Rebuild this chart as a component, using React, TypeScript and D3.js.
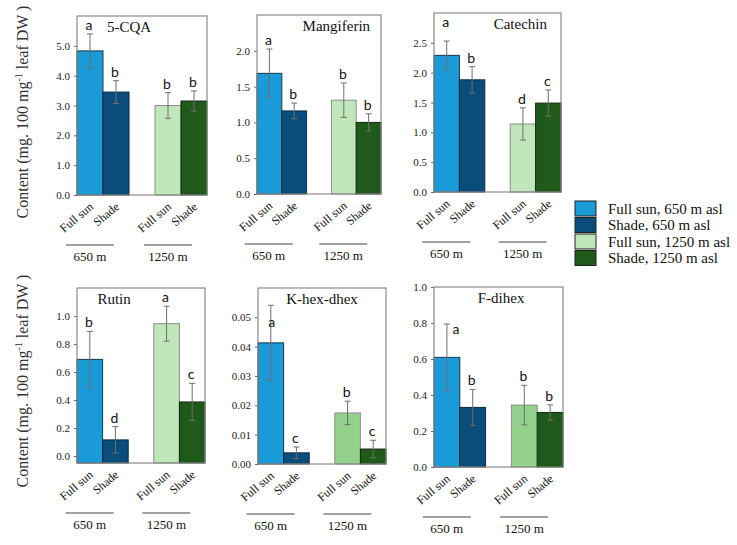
import { useEffect, useRef } from "react"
import * as d3 from "d3"

// treatments, in bar order
const treatments = ["Full sun, 650 m asl", "Shade, 650 m asl", "Full sun, 1250 m asl", "Shade, 1250 m asl"]
const barLabels = ["Full sun", "Shade", "Full sun", "Shade"]
const sites = ["650 m", "1250 m"]

// 5-CQA
const cqaMeans = [4.83, 3.45, 3.0, 3.15]
const cqaErrs = [0.57, 0.38, 0.43, 0.34]
const cqaLetters = ["a", "b", "b", "b"]
const cqaTicks = [0, 1, 2, 3, 4, 5]

// Mangiferin
const mangMeans = [1.685, 1.16, 1.31, 1.0]
const mangErrs = [0.34, 0.11, 0.24, 0.12]
const mangLetters = ["a", "b", "b", "b"]
const mangTicks = [0, 0.5, 1.0, 1.5, 2.0]

// Catechin
const catMeans = [2.29, 1.88, 1.14, 1.49]
const catErrs = [0.24, 0.22, 0.27, 0.22]
const catLetters = ["a", "b", "d", "c"]
const catTicks = [0, 0.5, 1.0, 1.5, 2.0, 2.5]

// Rutin
const rutMeans = [0.74, 0.165, 0.995, 0.436]
const rutErrs = [0.2, 0.095, 0.125, 0.133]
const rutLetters = ["b", "d", "a", "c"]
const rutTicks = [0, 0.2, 0.4, 0.6, 0.8, 1.0]

// K-hex-dhex
const khexMeans = [0.0413, 0.0038, 0.0174, 0.0051]
const khexErrs = [0.0128, 0.002, 0.004, 0.003]
const khexLetters = ["a", "c", "b", "c"]
const khexTicks = [0, 0.01, 0.02, 0.03, 0.04, 0.05]

// F-dihex
const fdiMeans = [0.609, 0.331, 0.344, 0.303]
const fdiErrs = [0.185, 0.1, 0.11, 0.042]
const fdiLetters = ["a", "b", "b", "b"]
const fdiTicks = [0, 0.2, 0.4, 0.6, 0.8, 1.0]

const FILL = ["#1a9ad6", "#0a4c7a", "#c2e6bb", "#1f5a1a"]
const STROKE = ["#17384d", "#0a2a40", "#8a8f88", "#0f2a0c"]
const SERIF = "'Liberation Serif', 'Times New Roman', serif"
const SANS = "Lato, 'Open Sans', sans-serif"

// panel layout (pixel boxes, title placement, odd letter placements)
const panels = [
  { name: "5-CQA", means: cqaMeans, errs: cqaErrs, letters: cqaLetters, ticks: cqaTicks, max: 6, fmt: ".1f", left: 77, top: 16, width: 130, height: 179, titleX: 0.4, shift: 0, lightGreen: FILL[2], nudge: {} as Record<number, [number, number]> },
  { name: "Mangiferin", means: mangMeans, errs: mangErrs, letters: mangLetters, ticks: mangTicks, max: 2.5, fmt: ".1f", left: 257, top: 15, width: 124, height: 179, titleX: 0.64, shift: 0, lightGreen: FILL[2], nudge: {} },
  { name: "Catechin", means: catMeans, errs: catErrs, letters: catLetters, ticks: catTicks, max: 3, fmt: ".1f", left: 434, top: 13, width: 127, height: 179, titleX: 0.68, shift: 0, lightGreen: FILL[2], nudge: { 0: [0, -10] } },
  { name: "Rutin", means: rutMeans, errs: rutErrs, letters: rutLetters, ticks: rutTicks, max: 1.25, fmt: ".1f", left: 77, top: 288, width: 128, height: 175, titleX: 0.29, shift: -7, lightGreen: FILL[2], nudge: {} },
  { name: "K-hex-dhex", means: khexMeans, errs: khexErrs, letters: khexLetters, ticks: khexTicks, max: 0.06, fmt: ".2f", left: 258, top: 288, width: 128, height: 176, titleX: 0.5, shift: 0, lightGreen: "#93d18c", nudge: { 0: [2, 25] } },
  { name: "F-dihex", means: fdiMeans, errs: fdiErrs, letters: fdiLetters, ticks: fdiTicks, max: 1.0, fmt: ".1f", left: 434, top: 287, width: 129, height: 180, titleX: 0.52, shift: 0, lightGreen: "#93d18c", nudge: { 0: [10, 14] } },
]

const SLOTS = [0, 1, 3, 4]

export default function App() {
  const svgRef = useRef<SVGSVGElement>(null)

  useEffect(() => {
    if (!svgRef.current) return
    const svg = d3.select(svgRef.current)
    svg.selectAll("*").remove()

    panels.forEach((p) => {
      const g = svg.append("g")
      const base = p.top + p.height
      const x = d3.scaleBand<number>().domain([0, 1, 2, 3, 4]).range([p.left, p.left + p.width]).paddingInner(0)
      const y = d3.scaleLinear().domain([0, p.max]).range([base, p.top])
      const fills = [FILL[0], FILL[1], p.lightGreen, FILL[3]]

      // y axis
      const ax = g
        .append("g")
        .attr("transform", `translate(${p.left},${p.shift})`)
        .call(d3.axisLeft(y).tickValues(p.ticks).tickSize(3).tickPadding(4).tickFormat(d3.format(p.fmt)))
      ax.select(".domain").remove()
      ax.attr("font-family", SERIF)
      ax.selectAll(".tick line").attr("stroke", "#666")
      ax.selectAll(".tick text").attr("font-family", SERIF).attr("font-size", 11).attr("fill", "#222")

      // bars
      p.means.forEach((m, i) => {
        const bx = x(SLOTS[i]) as number
        g.append("rect")
          .attr("x", bx)
          .attr("y", y(m))
          .attr("width", x.bandwidth())
          .attr("height", base - y(m))
          .attr("fill", fills[i])
          .attr("stroke", STROKE[i])
          .attr("stroke-width", 1)
      })

      // frame
      g.append("rect")
        .attr("x", p.left)
        .attr("y", p.top)
        .attr("width", p.width)
        .attr("height", p.height)
        .attr("fill", "none")
        .attr("stroke", "#8a8a8a")
        .attr("stroke-width", 1.2)

      // error bars + letters
      p.means.forEach((m, i) => {
        const cx = (x(SLOTS[i]) as number) + x.bandwidth() / 2
        const hi = y(m + p.errs[i])
        const lo = y(m - p.errs[i])
        const eb = g.append("g").attr("stroke", "#6e6e6e").attr("stroke-width", 1)
        eb.append("line").attr("x1", cx).attr("x2", cx).attr("y1", hi).attr("y2", lo)
        eb.append("line").attr("x1", cx - 3).attr("x2", cx + 3).attr("y1", hi).attr("y2", hi)
        eb.append("line").attr("x1", cx - 3).attr("x2", cx + 3).attr("y1", lo).attr("y2", lo)
        const [ndx, ndy] = (p.nudge as Record<number, [number, number]>)[i] || [0, 0]
        g.append("text")
          .attr("x", cx - 1 + ndx)
          .attr("y", Math.max(hi - 4, p.top + 14) + ndy)
          .attr("text-anchor", "middle")
          .attr("font-family", SANS)
          .attr("font-size", 14)
          .attr("fill", "#111")
          .text(p.letters[i])

        // rotated bar label
        g.append("text")
          .attr("transform", `translate(${cx + 4},${base + 13}) rotate(-40)`)
          .attr("text-anchor", "end")
          .attr("font-family", SERIF)
          .attr("font-size", 12)
          .attr("fill", "#111")
          .text(barLabels[i])
      })

      // title
      g.append("text")
        .attr("x", p.left + p.width * p.titleX)
        .attr("y", p.top + 16)
        .attr("text-anchor", "middle")
        .attr("font-family", SERIF)
        .attr("font-size", 15)
        .attr("fill", "#111")
        .text(p.name)

      // site groups
      sites.forEach((s, k) => {
        const gc = (x(SLOTS[k * 2]) as number) + x.bandwidth()
        g.append("line")
          .attr("x1", gc - 37)
          .attr("x2", gc + 11)
          .attr("y1", base + 50)
          .attr("y2", base + 50)
          .attr("stroke", "#444")
          .attr("stroke-width", 1)
        g.append("text")
          .attr("x", gc - 13)
          .attr("y", base + 66)
          .attr("text-anchor", "middle")
          .attr("font-family", SERIF)
          .attr("font-size", 13)
          .attr("fill", "#111")
          .text(s)
      })
    })

    // y-axis titles
    ;[112, 381].forEach((cy) => {
      const t = svg
        .append("text")
        .attr("transform", `translate(28,${cy}) rotate(-90)`)
        .attr("text-anchor", "middle")
        .attr("font-family", SERIF)
        .attr("font-size", 16)
        .attr("fill", "#333")
      t.append("tspan").text("Content (mg. 100 mg")
      t.append("tspan").attr("font-size", 10).attr("dy", -6).text("-1")
      t.append("tspan").attr("dy", 6).text(" leaf DW )")
    })

    // legend
    const lg = svg.append("g").attr("transform", "translate(575,201)")
    treatments.forEach((t, i) => {
      lg.append("rect")
        .attr("x", 0)
        .attr("y", i * 16.5)
        .attr("width", 21)
        .attr("height", 15)
        .attr("fill", FILL[i])
        .attr("stroke", "#222")
        .attr("stroke-width", 1)
      lg.append("text")
        .attr("x", 33)
        .attr("y", i * 16.5 + 12.5)
        .attr("font-family", SERIF)
        .attr("font-size", 15)
        .attr("fill", "#111")
        .text(t)
    })
  }, [])

  return (
    <svg
      ref={svgRef}
      width={737}
      height={545}
      style={{ position: "absolute", left: 0, top: 0, background: "#fff" }}
    />
  )
}
